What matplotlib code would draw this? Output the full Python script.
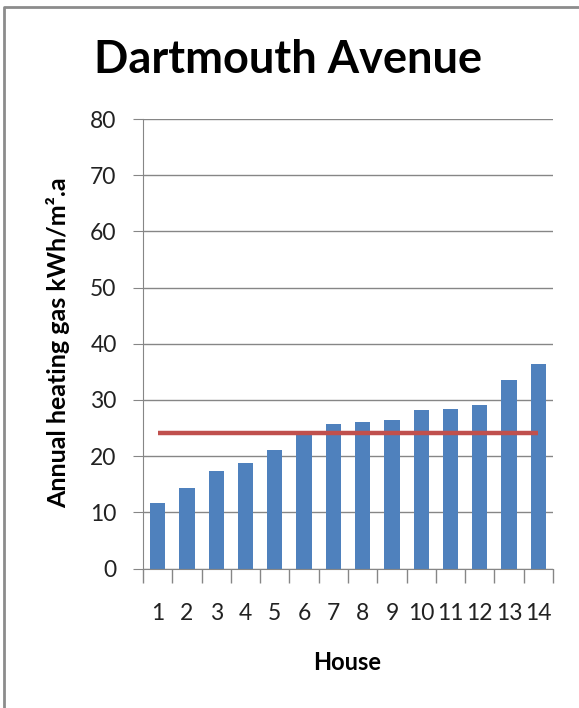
import matplotlib.pyplot as plt
from matplotlib.lines import Line2D
import numpy as np

houses = [str(i) for i in range(1, 15)]
heating = [11.7, 14.3, 17.3, 18.8, 21.1, 24.0, 25.7, 26.0, 26.4, 28.2, 28.4, 29.1, 33.6, 36.4]
average = [24.2] * len(houses)

plt.rcParams['font.family'] = ['Lato', 'DejaVu Sans']

W, H = 579, 708
fig = plt.figure(figsize=(W / 100, H / 100), dpi=100)

# chart area frame (only top and left edges fall inside the image)
fig.lines.append(Line2D([4 / W, 4 / W, 1], [0, 1 - 7 / H, 1 - 7 / H], transform=fig.transFigure,
                        color='#8c8c8c', linewidth=2))

ax = fig.add_axes([143 / W, 139.5 / H, 410 / W, 449.5 / H])
x = np.arange(1, len(houses) + 1)
ax.bar(x, heating, width=0.52, color='#4F81BD', zorder=2)
ax.plot(x, average, color='#C0504D', linewidth=3.2, solid_capstyle='butt', zorder=3)

ax.set_xlim(0.5, len(houses) + 0.5)
ax.set_ylim(0, 80)
ax.set_yticks(range(0, 81, 10))
ax.set_xticks(x)
ax.set_xticklabels(houses)
ax.set_xticks(np.arange(0.5, len(houses) + 1, 1), minor=True)
ax.tick_params(axis='x', which='major', length=0, pad=25, labelsize=16.5, colors='#222222')
ax.tick_params(axis='x', which='minor', length=10, color='#868686', width=1)
ax.tick_params(axis='y', length=7, color='#868686', pad=12, labelsize=16.5, labelcolor='#222222')

ax.grid(axis='y', color='#868686', linewidth=1, zorder=0)
for side in ['top', 'right']:
    ax.spines[side].set_visible(False)
for side in ['left', 'bottom']:
    ax.spines[side].set_color('#868686')

fig.text(288 / W, 1 - 60 / H, 'Dartmouth Avenue', ha='center', va='center',
         fontsize=32.5, fontweight='bold')
fig.text(58 / W, 1 - 343 / H, 'Annual heating gas kWh/m².a', ha='center', va='center',
         rotation=90, fontsize=18, fontweight='bold')
fig.text(347 / W, 1 - 663 / H, 'House', ha='center', va='center',
         fontsize=17, fontweight='bold')

fig.savefig('out.png', dpi=100)
